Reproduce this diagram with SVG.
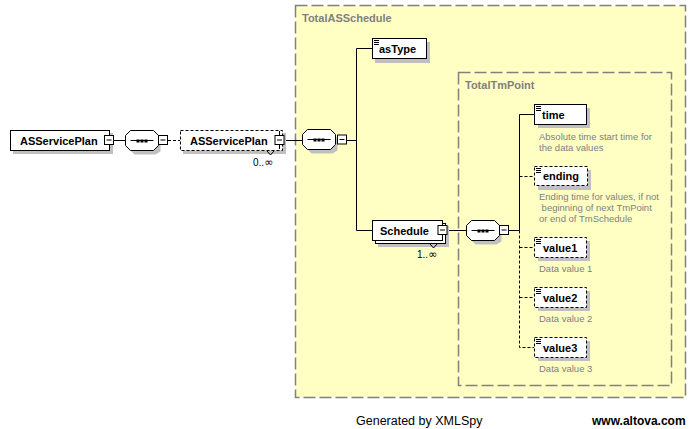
<svg xmlns="http://www.w3.org/2000/svg" width="697" height="429" viewBox="0 0 697 429">
<style>
.bg{fill:#fff}
.comp{fill:#FFFFC4;stroke:#808080;stroke-width:1.5;stroke-dasharray:12,4}
.clabel{font-family:"Liberation Sans",Arial,sans-serif;font-size:11px;font-weight:bold;fill:#808080}
.box{fill:#fff;stroke:#000;stroke-width:1}
.dbox{fill:#fff;stroke:#000;stroke-width:1;stroke-dasharray:3,2}
.sh{fill:#C0C0C0}
.lbl{font-family:"Liberation Sans",Arial,sans-serif;font-size:11px;font-weight:bold;fill:#000}
.desc{font-family:"Liberation Sans",Arial,sans-serif;font-size:9.5px;fill:#808080}
.occ{font-family:"Liberation Sans",Arial,sans-serif;font-size:10px;fill:#000}
.inf{font-family:"DejaVu Sans",sans-serif;font-size:11px}
.ln{fill:none;stroke:#000;stroke-width:1}
.dl{fill:none;stroke:#000;stroke-width:1;stroke-dasharray:3,2}
.foot{font-family:"Liberation Sans",Arial,sans-serif;font-size:12.5px;fill:#000}
.foot2{font-family:"Liberation Sans",Arial,sans-serif;font-size:12px;font-weight:bold;fill:#000}
</style>
<defs>
<g id="icon"><path d="M2,2.5h5M2,4.5h5M2,6.5h5" stroke="#000" stroke-width="1"/></g>
<g id="seq">
<path d="M4,4 H30 L35,9 V21 L30,24 H9 L4,19 Z" class="sh"/>
<path d="M5,0 H28 L33,5 V15 L28,20 H5 L0,15 V5 Z" fill="#fff" stroke="#000"/>
<path d="M5,10 H28" stroke="#000"/>
<rect x="11" y="9" width="3" height="3" fill="#000"/>
<rect x="15" y="9" width="3" height="3" fill="#000"/>
<rect x="19" y="9" width="3" height="3" fill="#000"/>
</g>
<g id="minus"><rect x="0.5" y="0.5" width="9" height="9" fill="#fff" stroke="#000"/><path d="M2.5,5H7.5" stroke="#000"/></g>
</defs>
<rect class="bg" x="0" y="0" width="697" height="429"/>

<g id="TotalASSchedule">
<rect class="comp" x="295.5" y="5.5" width="390" height="392"/>
<text class="clabel" x="302" y="22">TotalASSchedule</text>
</g>
<g id="TotalTmPoint">
<rect class="comp" x="458.5" y="72.5" width="213" height="313"/>
<text class="clabel" x="465" y="89">TotalTmPoint</text>
</g>

<g id="connectors">
<path class="ln" d="M113,140.5H125"/>
<path class="dl" d="M168,140.5H180"/>
<path class="ln" d="M284,140.5H302"/>
<path class="ln" d="M347,140.5H356.5V48.5H372M356.5,140.5V230.5H372"/>
<path class="ln" d="M447,230.5H466"/>
<path class="ln" d="M509,230.5H519.5V114.5H534"/>
<path class="dl" d="M519.5,176.5H534"/>
<path class="dl" d="M519.5,230.5V347.5H534M519.5,247.5H534M519.5,297.5H534"/>
</g>

<g id="root">
<rect class="sh" x="13" y="133" width="100" height="21"/>
<rect class="box" x="10.5" y="130.5" width="99" height="20"/>
<text class="lbl" x="20" y="144.5">ASServicePlan</text>
<use href="#minus" x="104" y="135"/>
</g>

<g id="seq1"><use href="#seq" x="125.5" y="130.5"/><use href="#minus" x="158" y="135"/></g>

<g id="ASServicePlan">
<rect class="sh" x="183" y="133" width="103" height="21"/>
<rect class="dbox" x="180.5" y="130.5" width="102" height="20"/>
<path class="ln" d="M267,151L270.5,155L274,151"/>
<text class="lbl" x="190" y="144.5">ASServicePlan</text>
<path class="ln" d="M279.5,131V135M279.5,145V149"/>
<use href="#minus" x="274.5" y="135"/>
<text class="occ" x="253" y="166">0..<tspan class="inf">∞</tspan></text>
</g>

<g id="seq2"><use href="#seq" x="302.5" y="129.5"/><use href="#minus" x="337" y="134.5"/></g>

<g id="asType">
<rect class="sh" x="375" y="42" width="55" height="21"/>
<rect class="box" x="372.5" y="38.5" width="54" height="20"/>
<use href="#icon" x="372" y="38"/>
<text class="lbl" x="379" y="52.5">asType</text>
</g>

<g id="Schedule">
<rect class="sh" x="378" y="226" width="71" height="21"/>
<rect class="box" x="375.5" y="223.5" width="70" height="20"/>
<rect class="box" x="372.5" y="220.5" width="70" height="20"/>
<path class="ln" d="M430,244L433.5,248L437,244"/>
<text class="lbl" x="380" y="234.5">Schedule</text>
<use href="#minus" x="437.5" y="225"/>
<text class="occ" x="417" y="258">1..<tspan class="inf">∞</tspan></text>
</g>

<g id="seq3"><use href="#seq" x="466.5" y="220.5"/><use href="#minus" x="499" y="225"/></g>

<g id="time">
<rect class="sh" x="538" y="108" width="52" height="20"/>
<rect class="box" x="534.5" y="104.5" width="52" height="20"/>
<use href="#icon" x="534" y="104"/>
<text class="lbl" x="542" y="118.5">time</text>
<text class="desc" x="539" y="140">Absolute time start time for</text>
<text class="desc" x="539" y="151">the data values</text>
</g>

<g id="ending">
<rect class="sh" x="538" y="170" width="53" height="20"/>
<rect class="dbox" x="534.5" y="166.5" width="53" height="19"/>
<use href="#icon" x="534" y="166"/>
<text class="lbl" x="543" y="180">ending</text>
<text class="desc" x="539" y="200">Ending time for values, if not</text>
<text class="desc" x="541.6" y="211">beginning of next TmPoint</text>
<text class="desc" x="539" y="222">or end of TmSchedule</text>
</g>

<g id="value1">
<rect class="sh" x="538" y="241" width="52" height="20"/>
<rect class="dbox" x="534.5" y="237.5" width="52" height="20"/>
<use href="#icon" x="534" y="237"/>
<text class="lbl" x="543" y="251.5">value1</text>
<text class="desc" x="539" y="272">Data value 1</text>
</g>

<g id="value2">
<rect class="sh" x="538" y="291" width="52" height="20"/>
<rect class="dbox" x="534.5" y="287.5" width="52" height="20"/>
<use href="#icon" x="534" y="287"/>
<text class="lbl" x="543" y="301.5">value2</text>
<text class="desc" x="539" y="322">Data value 2</text>
</g>

<g id="value3">
<rect class="sh" x="538" y="341" width="52" height="20"/>
<rect class="dbox" x="534.5" y="337.5" width="52" height="20"/>
<use href="#icon" x="534" y="337"/>
<text class="lbl" x="543" y="351.5">value3</text>
<text class="desc" x="539" y="372">Data value 3</text>
</g>

<text class="foot" x="356" y="425">Generated by XMLSpy</text>
<text class="foot2" x="592" y="425">www.altova.com</text>
</svg>
